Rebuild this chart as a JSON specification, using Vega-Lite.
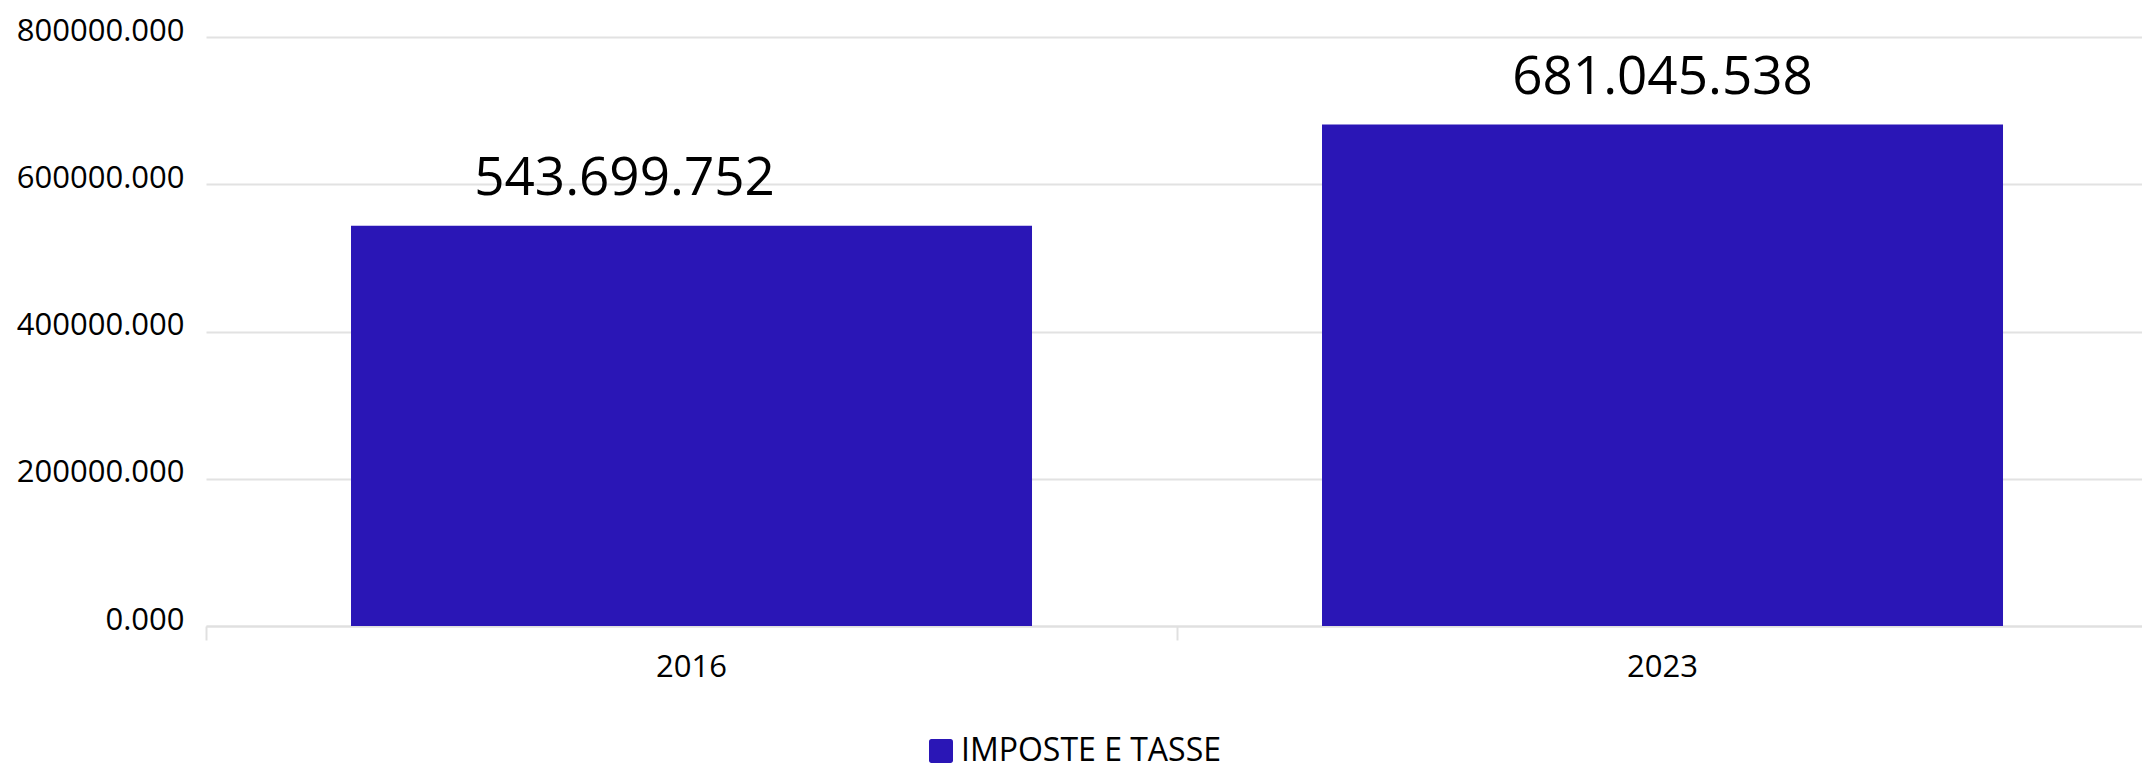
{
  "$schema": "https://vega.github.io/schema/vega-lite/v6.json",
  "width": 1936,
  "height": 589,
  "autosize": {"type": "none"},
  "padding": {"left": 206, "top": 37, "right": 0, "bottom": 141},
  "background": "white",
  "config": {
    "view": {"stroke": null},
    "font": "Open Sans",
    "locale": {"number": {"decimal": ".", "thousands": ".", "grouping": [3], "currency": ["", ""]}}
  },
  "data": {
    "values": [
      {"anno": "2016", "valore": 543699.752, "serie": "IMPOSTE E TASSE"},
      {"anno": "2023", "valore": 681045.538, "serie": "IMPOSTE E TASSE"}
    ]
  },
  "encoding": {
    "x": {
      "field": "anno",
      "type": "nominal",
      "title": null,
      "scale": {"paddingInner": 0.29866, "paddingOuter": 0.14624, "align": 0.5106},
      "axis": {
        "labelAngle": 0,
        "labelFontSize": 31,
        "labelColor": "#000000",
        "labelBaseline": "alphabetic",
        "labelPadding": 36,
        "tickSize": 14,
        "tickColor": "#e0e0e0",
        "tickWidth": 2,
        "bandPosition": -0.2129,
        "domainColor": "#e0e0e0",
        "domainWidth": 2,
        "grid": false
      }
    },
    "y": {
      "field": "valore",
      "type": "quantitative",
      "title": null,
      "scale": {"domain": [0, 800000], "nice": false},
      "axis": {
        "values": [0, 200000, 400000, 600000, 800000],
        "format": ".3f",
        "labelFontSize": 31,
        "labelColor": "#000000",
        "labelPadding": 22,
        "labelBaseline": "alphabetic",
        "labelOffset": 3,
        "ticks": false,
        "domain": false,
        "gridColor": "#e2e2e2",
        "gridWidth": 2
      }
    }
  },
  "layer": [
    {
      "mark": {"type": "bar"},
      "encoding": {
        "color": {
          "field": "serie",
          "type": "nominal",
          "scale": {"range": ["#2a16b6"]},
          "legend": {
            "title": null,
            "orient": "none",
            "legendX": 719,
            "legendY": 698,
            "symbolType": "M -0.8 -1 L 0.8 -1 A 0.2 0.2 0 0 1 1 -0.8 L 1 0.8 A 0.2 0.2 0 0 1 0.8 1 L -0.8 1 A 0.2 0.2 0 0 1 -1 0.8 L -1 -0.8 A 0.2 0.2 0 0 1 -0.8 -1 Z",
            "symbolSize": 576,
            "symbolStrokeWidth": 0,
            "symbolOpacity": 1,
            "labelFontSize": 32,
            "labelColor": "#000000",
            "labelOffset": 4,
            "labelLimit": 0
          }
        }
      }
    },
    {
      "transform": [{"filter": "datum.anno == '2016'"}],
      "mark": {"type": "text", "dx": -67, "dy": -31, "baseline": "alphabetic", "fontSize": 53, "color": "#000000"},
      "encoding": {"text": {"field": "valore", "type": "quantitative", "format": ",.3f"}}
    },
    {
      "transform": [{"filter": "datum.anno == '2023'"}],
      "mark": {"type": "text", "dy": -31, "baseline": "alphabetic", "fontSize": 53, "color": "#000000"},
      "encoding": {"text": {"field": "valore", "type": "quantitative", "format": ",.3f"}}
    }
  ]
}
